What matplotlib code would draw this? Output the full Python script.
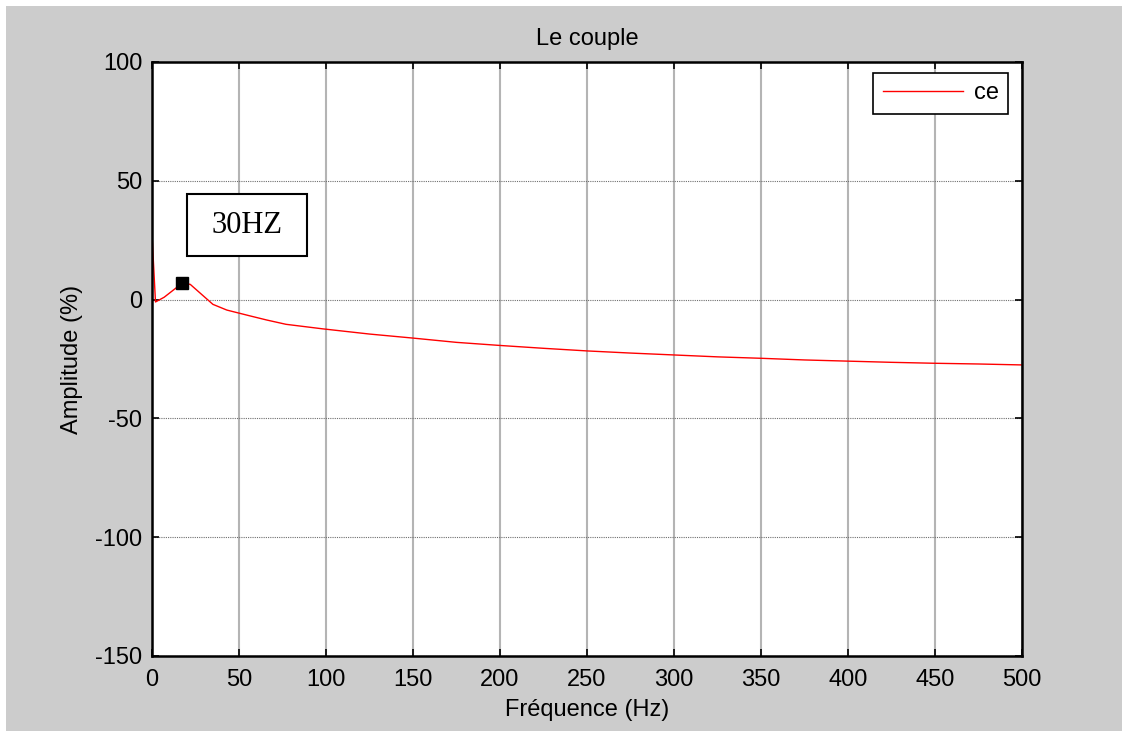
import matplotlib
matplotlib.use("Agg")
import matplotlib.pyplot as plt
from matplotlib.patches import Rectangle


# Spectre du couple (amplitude en %) en fonction de la fréquence
FREQ = [0, 2, 7, 17.5, 22, 35, 43, 56, 66, 77, 98, 125, 150, 175, 200,
        225, 250, 275, 300, 325, 350, 375, 400, 425, 450, 475, 500]
AMPLITUDE = [27.5, -1.0, 1.0, 7.0, 6.4, -2.0, -4.4, -6.8, -8.6, -10.4, -12.3,
             -14.5, -16.2, -18.0, -19.3, -20.5, -21.6, -22.5, -23.3, -24.1,
             -24.7, -25.4, -25.9, -26.4, -26.8, -27.1, -27.5]

# Point repéré sur la courbe
PEAK_FREQ = 17.5
PEAK_AMP = 7.0
PEAK_LABEL = "30HZ"

X_TICKS = list(range(0, 501, 50))
Y_TICKS = [-150, -100, -50, 0, 50, 100]

TITLE = "Le couple"
X_LABEL = "Fréquence (Hz)"
Y_LABEL = "Amplitude (%)"
LEGEND_LABEL = "ce"

FONT = ["Liberation Sans", "DejaVu Sans"]
FS = 17


def main():
    plt.rcParams["font.family"] = FONT
    plt.rcParams["axes.unicode_minus"] = False

    fig = plt.figure(figsize=(11.22, 7.31), dpi=100, facecolor="white")

    # fond gris de la fenêtre
    fig.patches.append(Rectangle((6 / 1122, 0), 1, 725 / 731,
                                 transform=fig.transFigure,
                                 facecolor="#cccccc", edgecolor="none",
                                 zorder=-10))

    ax = fig.add_axes([152 / 1122, 75 / 731, 870 / 1122, 594 / 731])
    ax.set_facecolor("white")

    ax.plot(FREQ, AMPLITUDE, color="red", linewidth=1.0, label=LEGEND_LABEL)
    ax.plot([PEAK_FREQ], [PEAK_AMP], marker="s", color="black",
            markersize=8, linestyle="none")

    ax.set_xlim(0, 500)
    ax.set_ylim(-150, 100)
    ax.set_xticks(X_TICKS)
    ax.set_yticks(Y_TICKS)

    # grille façon MATLAB
    ax.xaxis.grid(True, color="#b4b4b4", linestyle="-", linewidth=1.5)
    ax.yaxis.grid(True, color="#6e6e6e", linestyle=(0, (1, 1)), linewidth=0.8)
    ax.set_axisbelow(True)

    ax.tick_params(direction="in", length=5, width=1.2, top=True, right=True,
                   labelsize=FS, colors="black")
    ax.tick_params(axis="x", pad=9)
    ax.tick_params(axis="y", pad=7)
    for sp in ax.spines.values():
        sp.set_linewidth(1.8)
        sp.set_color("black")

    ax.set_title(TITLE, fontsize=FS, pad=12)
    ax.set_xlabel(X_LABEL, fontsize=FS, labelpad=6)
    ax.set_ylabel(Y_LABEL, fontsize=FS, labelpad=9)

    leg = ax.legend(loc="upper right", bbox_to_anchor=(0.984, 0.982),
                    fontsize=FS, handlelength=3.4, handletextpad=0.45,
                    borderpad=0.4, borderaxespad=0, fancybox=False,
                    framealpha=1)
    leg.get_frame().set_edgecolor("black")
    leg.get_frame().set_linewidth(1.2)

    # cadre d'annotation
    box = Rectangle((0.0406, 0.673), 0.138, 0.105, transform=ax.transAxes,
                    facecolor="white", edgecolor="black", linewidth=1.5,
                    zorder=5)
    ax.add_patch(box)
    ax.text(0.0406 + 0.069, 0.673 + 0.0525, PEAK_LABEL,
            transform=ax.transAxes, ha="center", va="center",
            fontsize=22, family=["Liberation Serif", "DejaVu Serif"],
            zorder=6)

    fig.savefig("out.png", dpi=100)


if __name__ == "__main__":
    main()
